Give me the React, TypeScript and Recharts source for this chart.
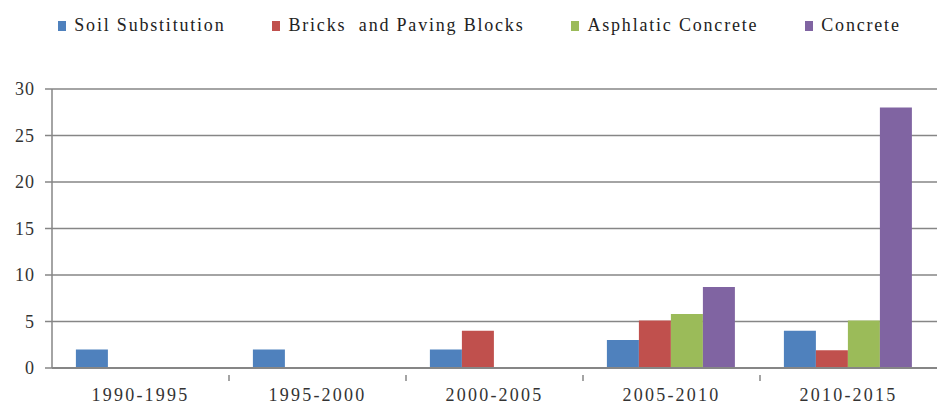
import { BarChart, Bar, XAxis, YAxis, CartesianGrid, Legend } from 'recharts';

const periods = ['1990-1995', '1995-2000', '2000-2005', '2005-2010', '2010-2015'];
const soilSubstitution = [2, 2, 2, 3, 4];
const bricksPaving = [0, 0, 4, 5.1, 1.9];
const asphalticConcrete = [0, 0, 0, 5.8, 5.1];
const concrete = [0, 0, 0, 8.7, 28];
const yTicks = [0, 5, 10, 15, 20, 25, 30];

const seriesNames = ['Soil Substitution', 'Bricks  and Paving Blocks', 'Asphlatic Concrete', 'Concrete'];
const seriesColors = ['#4F81BD', '#C0504D', '#9BBB59', '#8064A2'];

const data = periods.map((p, i) => ({
  period: p,
  soil: soilSubstitution[i],
  bricks: bricksPaving[i],
  asphalt: asphalticConcrete[i],
  concrete: concrete[i],
}));

const FONT = "'Liberation Serif', 'DejaVu Serif', serif";
const AXIS = '#868686';
const BAND = 885 / periods.length;

function PeriodTick(props: any) {
  const { x, y, payload, index } = props;
  return (
    <g>
      {index < periods.length - 1 && (
        <line x1={x + BAND / 2} x2={x + BAND / 2} y1={y - 1} y2={y + 5} stroke={AXIS} strokeWidth={1.5} />
      )}
      <text
        x={x}
        y={y + 12}
        dy="0.71em"
        textAnchor="middle"
        fill="#333"
        fontFamily={FONT}
        fontSize={18}
        letterSpacing={2.2}
      >
        {payload.value}
      </text>
    </g>
  );
}

function ValueTick(props: any) {
  const { x, y, payload } = props;
  return (
    <text x={x} y={y} dy="0.35em" textAnchor="end" fill="#333" fontFamily={FONT} fontSize={18} letterSpacing={1}>
      {payload.value}
    </text>
  );
}

function LegendRow() {
  return (
    <div
      style={{
        display: 'flex',
        justifyContent: 'center',
        paddingLeft: 22,
        fontFamily: FONT,
        fontSize: 18,
        letterSpacing: 1.8,
        color: '#222',
      }}
    >
      {seriesNames.map((name, i) => (
        <div key={name} style={{ display: 'flex', alignItems: 'center', marginRight: i < seriesNames.length - 1 ? 47 : 0 }}>
          <span style={{ width: 8, height: 10, background: seriesColors[i], marginRight: 8, display: 'inline-block' }} />
          <span style={{ whiteSpace: 'pre' }}>{name}</span>
        </div>
      ))}
    </div>
  );
}

export default function App() {
  return (
    <div style={{ position: 'absolute', left: 0, top: 0, background: '#fff' }}>
      <BarChart
        width={937}
        height={410}
        data={data}
        margin={{ top: 68, right: 0, bottom: 12, left: 0 }}
        barCategoryGap="13.5%"
        barGap={0}
      >
        <CartesianGrid vertical={false} stroke={AXIS} strokeWidth={1.5} />
        <XAxis
          dataKey="period"
          tickLine={false}
          axisLine={{ stroke: AXIS, strokeWidth: 2 }}
          tick={<PeriodTick />}
          interval={0}
        />
        <YAxis
          domain={[0, 30]}
          ticks={yTicks}
          width={52}
          tickSize={7}
          tickMargin={10}
          axisLine={{ stroke: AXIS, strokeWidth: 1.5 }}
          tickLine={{ stroke: AXIS, strokeWidth: 1.5 }}
          tick={<ValueTick />}
        />
        <Legend verticalAlign="top" align="center" wrapperStyle={{ top: 15 }} content={<LegendRow />} />
        <Bar dataKey="soil" name={seriesNames[0]} fill={seriesColors[0]} isAnimationActive={false} />
        <Bar dataKey="bricks" name={seriesNames[1]} fill={seriesColors[1]} isAnimationActive={false} />
        <Bar dataKey="asphalt" name={seriesNames[2]} fill={seriesColors[2]} isAnimationActive={false} />
        <Bar dataKey="concrete" name={seriesNames[3]} fill={seriesColors[3]} isAnimationActive={false} />
      </BarChart>
    </div>
  );
}
